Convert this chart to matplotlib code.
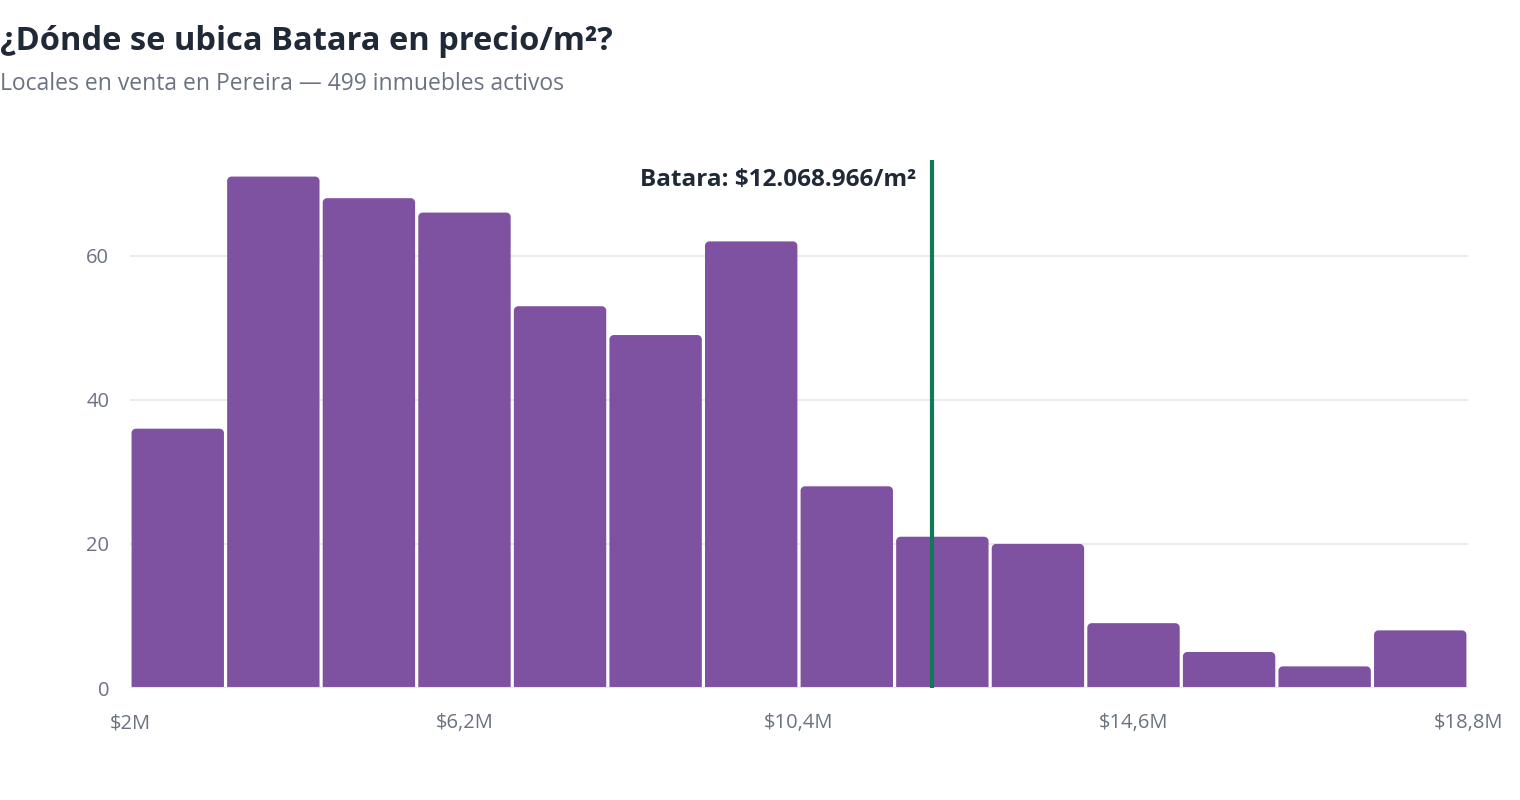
import matplotlib
matplotlib.use("Agg")
import matplotlib.pyplot as plt
import matplotlib.patches as patches
from matplotlib.path import Path

plt.rcParams['font.family'] = ['Open Sans', 'DejaVu Sans']

# histogram data (price per m2, millions of COP)
bin_edges = [2.0, 3.2, 4.4, 5.6, 6.8, 8.0, 9.2, 10.4, 11.6, 12.8, 14.0, 15.2, 16.4, 17.6, 18.8]
counts = [36, 71, 68, 66, 53, 49, 62, 28, 21, 20, 9, 5, 3, 8]
tick_values = [2.0, 6.2, 10.4, 14.6, 18.8]
tick_labels = ["$2M", "$6,2M", "$10,4M", "$14,6M", "$18,8M"]
batara_price = 12.068966
batara_label = "Batara: $12.068.966/m²"

BAR = "#7f51a1"
GRID = "#e5e7eb"
GRAY = "#6b7280"
DARK = "#1f2937"
GREEN = "#11795a"


def top_rounded_bar(x0, w, h, rx, ry):
    # bar path with only the two top corners rounded
    k = 0.55
    verts = [
        (x0, 0), (x0, h - ry),
        (x0, h - ry + k * ry), (x0 + rx - k * rx, h), (x0 + rx, h),
        (x0 + w - rx, h),
        (x0 + w - rx + k * rx, h), (x0 + w, h - ry + k * ry), (x0 + w, h - ry),
        (x0 + w, 0), (x0, 0),
    ]
    codes = [Path.MOVETO, Path.LINETO,
             Path.CURVE4, Path.CURVE4, Path.CURVE4,
             Path.LINETO,
             Path.CURVE4, Path.CURVE4, Path.CURVE4,
             Path.LINETO, Path.CLOSEPOLY]
    return Path(verts, codes)


fig = plt.figure(figsize=(15.2, 8), dpi=100)
ax = fig.add_axes([0.0855, 0.14, 0.8803, 0.66])
ax.set_xlim(2.0, 18.8)
ax.set_ylim(0, 73.3)

gap = 0.04
for i, c in enumerate(counts):
    x0 = bin_edges[i] + gap / 2
    w = bin_edges[i + 1] - bin_edges[i] - gap
    bar = patches.PathPatch(top_rounded_bar(x0, w, c, 0.055, 0.6),
                            facecolor=BAR, edgecolor="none", zorder=2)
    ax.add_patch(bar)

for y in [20, 40, 60]:
    ax.axhline(y, color=GRID, lw=1.2, zorder=1)
ax.axhline(0, color=GRID, lw=2.2, zorder=3)

ax.axvline(batara_price, color=GREEN, lw=3, zorder=4)
ax.text(batara_price - 0.2, 70.5, batara_label, ha="right", va="center",
        fontsize=17.5, fontweight="bold", color=DARK, zorder=5)

ax.set_yticks([0, 20, 40, 60])
ax.set_xticks(tick_values)
ax.set_xticklabels(tick_labels)
ax.tick_params(axis="both", length=0, labelsize=14.5, colors=GRAY)
ax.tick_params(axis="x", pad=18)
ax.tick_params(axis="y", pad=15)
for s in ax.spines.values():
    s.set_visible(False)

fig.text(0.0, 0.948, "¿Dónde se ubica Batara en precio/m²?", fontsize=23.5,
         fontweight="bold", color=DARK, va="center", ha="left")
fig.text(0.0, 0.895, "Locales en venta en Pereira — 499 inmuebles activos",
         fontsize=16.5, color=GRAY, va="center", ha="left")

fig.savefig("out.png", dpi=100)
